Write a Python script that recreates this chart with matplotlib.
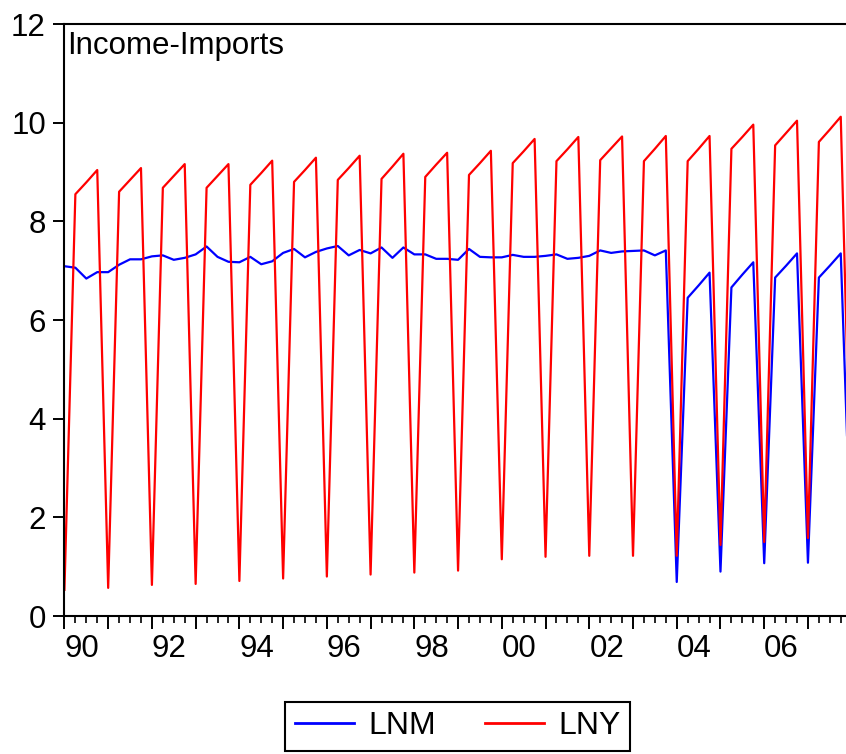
import matplotlib
matplotlib.use("Agg")
import matplotlib.pyplot as plt
import numpy as np

plt.rcParams["font.family"] = ["Liberation Sans", "DejaVu Sans"]

# quarterly series, 1990Q1 .. 2008Q1
start_year = 1990
lnm = [
    7.09, 7.06, 6.84, 6.97,
    6.97, 7.12, 7.23, 7.23,
    7.29, 7.31, 7.22, 7.26,
    7.33, 7.49, 7.28, 7.18,
    7.17, 7.28, 7.13, 7.19,
    7.36, 7.44, 7.27, 7.38,
    7.45, 7.50, 7.31, 7.42,
    7.35, 7.47, 7.26, 7.47,
    7.33, 7.33, 7.24, 7.24,
    7.22, 7.44, 7.28, 7.27,
    7.27, 7.32, 7.28, 7.28,
    7.30, 7.33, 7.24, 7.26,
    7.30, 7.41, 7.36, 7.39,
    7.40, 7.41, 7.31, 7.41,
    0.69, 6.45, 6.70, 6.96,
    0.90, 6.66, 6.92, 7.17,
    1.07, 6.86, 7.10, 7.35,
    1.08, 6.86, 7.10, 7.35,
    0.90,
]
lny = [
    0.53, 8.55, 8.79, 9.04,
    0.57, 8.60, 8.84, 9.08,
    0.63, 8.68, 8.92, 9.16,
    0.65, 8.68, 8.92, 9.16,
    0.71, 8.74, 8.98, 9.23,
    0.76, 8.80, 9.04, 9.29,
    0.80, 8.84, 9.08, 9.33,
    0.84, 8.86, 9.11, 9.37,
    0.88, 8.90, 9.15, 9.39,
    0.92, 8.94, 9.18, 9.43,
    1.15, 9.18, 9.42, 9.67,
    1.20, 9.22, 9.46, 9.71,
    1.22, 9.24, 9.48, 9.72,
    1.22, 9.22, 9.47, 9.73,
    1.22, 9.22, 9.47, 9.73,
    1.44, 9.47, 9.71, 9.96,
    1.50, 9.54, 9.79, 10.04,
    1.58, 9.61, 9.86, 10.12,
    1.65,
]
years = list(range(1990, 2008))
y_ticks = [0, 2, 4, 6, 8, 10, 12]


def main():
    t = start_year + np.arange(len(lny)) * 0.25

    fig = plt.figure(figsize=(8.46, 7.54), dpi=100)
    ax = fig.add_axes([64 / 846, 1 - 616 / 754, 1 - 64 / 846, (616 - 24) / 754])

    ax.plot(t, lnm, color="#0000ff", lw=1.6, label="LNM")
    ax.plot(t, lny, color="#ff0000", lw=1.6, label="LNY")

    ax.set_xlim(1989.99, 2007.87)
    ax.set_ylim(0, 12)

    ax.set_xticks(years)
    ax.set_xticklabels(["%02d" % (y % 100) if y % 2 == 0 else "" for y in years],
                       ha="left")
    ax.set_xticks(np.arange(1990, 2008, 0.25), minor=True)
    ax.set_yticks(y_ticks)
    ax.set_yticklabels([str(v) for v in y_ticks])

    ax.tick_params(axis="x", which="major", length=9, width=1.4, pad=4, labelsize=22.5)
    ax.tick_params(axis="x", which="minor", length=5, width=1.2)
    ax.tick_params(axis="y", length=8, width=1.4, pad=5, labelsize=22.5)
    for lab in ax.get_xticklabels():
        lab.set_x(lab.get_position()[0])

    for side in ("left", "bottom", "top"):
        ax.spines[side].set_linewidth(1.5)
    ax.spines["right"].set_visible(False)

    ax.text(0.004, 0.988, "Income-Imports", transform=ax.transAxes,
            ha="left", va="top", fontsize=22.5)

    leg = fig.legend(loc="center", bbox_to_anchor=(0.541, 0.037), ncol=2,
                     fontsize=23, frameon=True, fancybox=False,
                     edgecolor="black", framealpha=1, handlelength=1.85,
                     handletextpad=0.45, columnspacing=1.55, borderpad=0.3,
                     borderaxespad=0)
    leg.get_frame().set_linewidth(1.5)
    for line in leg.get_lines():
        line.set_linewidth(2)

    fig.savefig("out.png", dpi=100)
    plt.close(fig)


if __name__ == "__main__":
    main()
